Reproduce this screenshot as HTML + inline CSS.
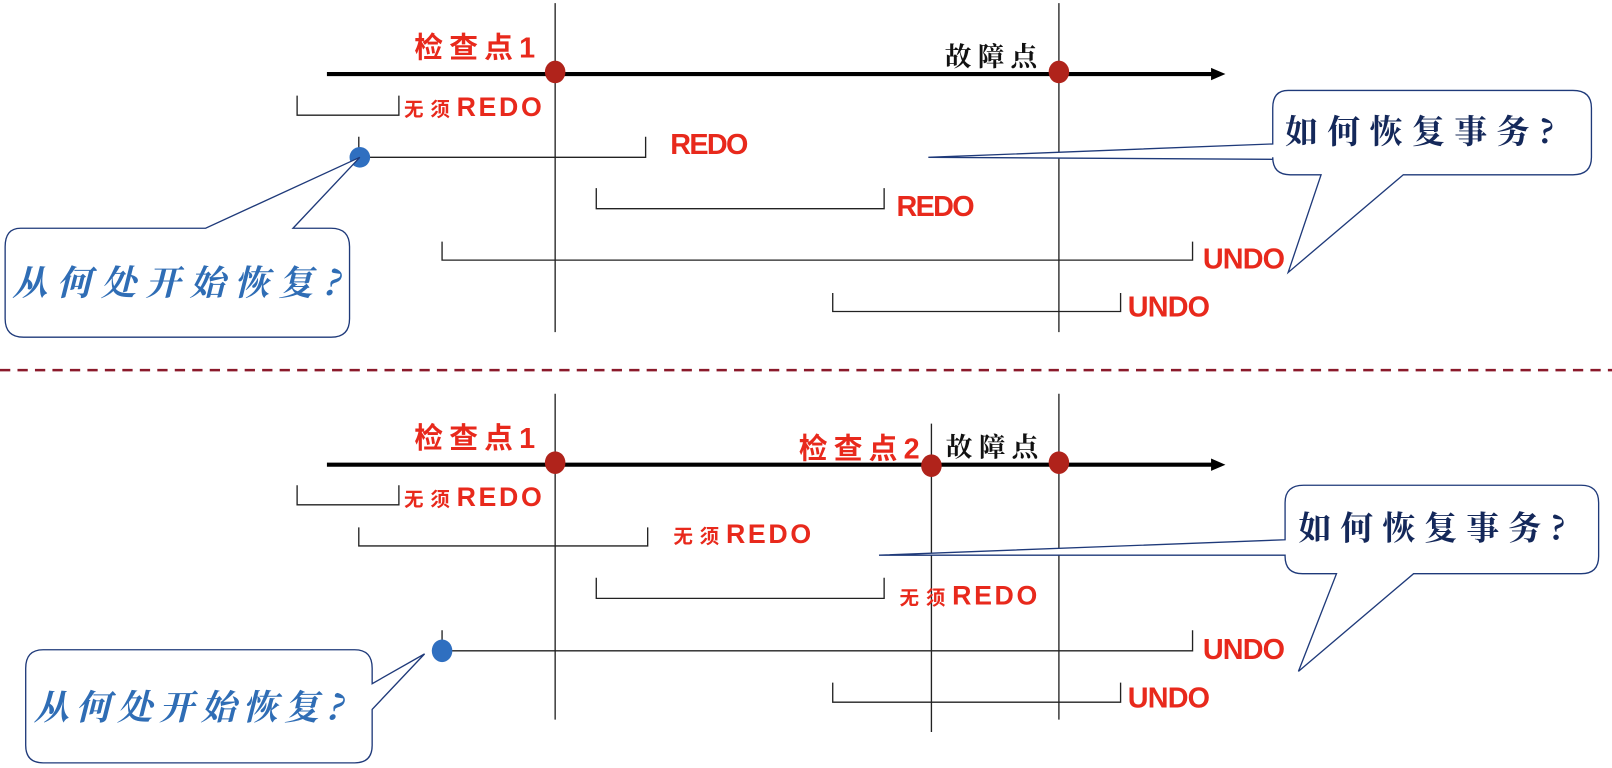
<!DOCTYPE html>
<html><head><meta charset="utf-8"><style>
html,body{margin:0;padding:0;background:#fff;width:1612px;height:768px;overflow:hidden}
svg{display:block}
.r{fill:#e8291c;font-family:"Liberation Sans","Noto Sans CJK SC",sans-serif;font-weight:bold}
.k{fill:#111;font-family:"Noto Serif CJK SC","Noto Sans CJK SC",serif;font-weight:bold}
.b{fill:#2f6db5;font-family:"Noto Serif CJK SC","Noto Sans CJK SC",serif;font-weight:bold;font-style:italic}
.n{fill:#14285a;font-family:"Noto Serif CJK SC","Noto Sans CJK SC",serif;font-weight:bold}
</style></head><body>
<svg width="1612" height="768" viewBox="0 0 1568 747" preserveAspectRatio="none">
<g stroke="#222" stroke-width="1.3" fill="none">
<line x1="540" y1="3" x2="540" y2="323"/>
<line x1="1030" y1="3" x2="1030" y2="323"/>
<polyline points="289,93 289,112 388,112 388,93"/>
<line x1="349" y1="133" x2="349" y2="153"/>
<polyline points="350,153 628,153 628,133"/>
<polyline points="580,183 580,203 860,203 860,183"/>
<polyline points="430,235 430,253 1160,253 1160,235"/>
<polyline points="810,285 810,303 1090,303 1090,285"/>
<line x1="540" y1="383" x2="540" y2="700"/>
<line x1="906" y1="412" x2="906" y2="712"/>
<line x1="1030" y1="383" x2="1030" y2="700"/>
<polyline points="289,472 289,491 388,491 388,472"/>
<polyline points="349,513 349,531 630,531 630,513"/>
<polyline points="580,562 580,582 860,582 860,562"/>
<line x1="430" y1="613" x2="430" y2="633"/>
<polyline points="430,633 1160,633 1160,613"/>
<polyline points="810,664 810,683 1090,683 1090,664"/>
</g>
<g stroke="#000" stroke-width="4">
<line x1="318" y1="72" x2="1180" y2="72"/>
<line x1="318" y1="452" x2="1180" y2="452"/>
</g>
<polygon points="1192,72 1178,66 1178,78" fill="#000"/>
<polygon points="1192,452 1178,446 1178,458" fill="#000"/>
<g fill="#b0231b">
<ellipse cx="540" cy="70" rx="10" ry="11"/><ellipse cx="1030" cy="70" rx="10" ry="11"/>
<ellipse cx="540" cy="450" rx="10" ry="11"/><ellipse cx="906" cy="453" rx="10" ry="11"/><ellipse cx="1030" cy="450" rx="10" ry="11"/>
</g>
<g fill="#2f6fc0"><ellipse cx="350" cy="153" rx="10" ry="10"/><ellipse cx="430" cy="633" rx="10" ry="11"/></g>
<line x1="0" y1="360" x2="1568" y2="360" stroke="#8b1a2b" stroke-width="2.5" stroke-dasharray="10,7"/>
<g fill="#fff" stroke="#1f3a7a" stroke-width="1.3">
<path d="M20,222 H200 L350,153 L285,222 H322 Q340,222 340,240 V310 Q340,328 322,328 H23 Q5,328 5,310 V240 Q5,222 20,222 Z"/>
<path d="M1253,88 H1530 Q1548,88 1548,105 V153 Q1548,170 1530,170 H1365 L1253,265 L1285,170 H1255 Q1238,170 1238,153 V155 L903,153 L1238,140 V105 Q1238,88 1253,88 Z"/>
<path d="M42,632 H345 Q362,632 362,650 V665 L413,636 L362,690 V725 Q362,742 345,742 H42 Q25,742 25,725 V650 Q25,632 42,632 Z"/>
<path d="M1268,472 H1538 Q1555,472 1555,489 V541 Q1555,558 1538,558 H1375 L1263,653 L1300,558 H1267 Q1250,558 1250,541 V540 L855,540 L1250,525 V489 Q1250,472 1268,472 Z"/>
</g>
<g class="r">
<text x="403" y="56" font-size="28" letter-spacing="6">检查点1</text>
<text x="393" y="113" font-size="26" textLength="134"><tspan font-size="19" letter-spacing="4">无须</tspan>REDO</text>
<text x="652" y="150" font-size="28" textLength="76">REDO</text>
<text x="872" y="210" font-size="28" textLength="76">REDO</text>
<text x="1170" y="261" font-size="28" textLength="80">UNDO</text>
<text x="1097" y="308" font-size="28" textLength="80">UNDO</text>
<text x="403" y="436" font-size="28" letter-spacing="6">检查点1</text>
<text x="777" y="446" font-size="28" letter-spacing="6">检查点2</text>
<text x="393" y="492" font-size="26" textLength="134"><tspan font-size="19" letter-spacing="4">无须</tspan>REDO</text>
<text x="655" y="528" font-size="26" textLength="134"><tspan font-size="19" letter-spacing="4">无须</tspan>REDO</text>
<text x="875" y="588" font-size="26" textLength="134"><tspan font-size="19" letter-spacing="4">无须</tspan>REDO</text>
<text x="1170" y="641" font-size="28" textLength="80">UNDO</text>
<text x="1097" y="688" font-size="28" textLength="80">UNDO</text>
</g>
<text class="k" x="919" y="64" font-size="26" letter-spacing="6">故障点</text>
<text class="k" x="920" y="444" font-size="26" letter-spacing="6">故障点</text>
<text class="b" x="12" y="287" font-size="34" textLength="318">从何处开始恢复?</text>
<text class="b" x="33" y="700" font-size="34" textLength="300">从何处开始恢复?</text>
<text class="n" x="1250" y="139" font-size="32" textLength="262">如何恢复事务?</text>
<text class="n" x="1263" y="525" font-size="32" textLength="260">如何恢复事务?</text>
</svg>
</body></html>
